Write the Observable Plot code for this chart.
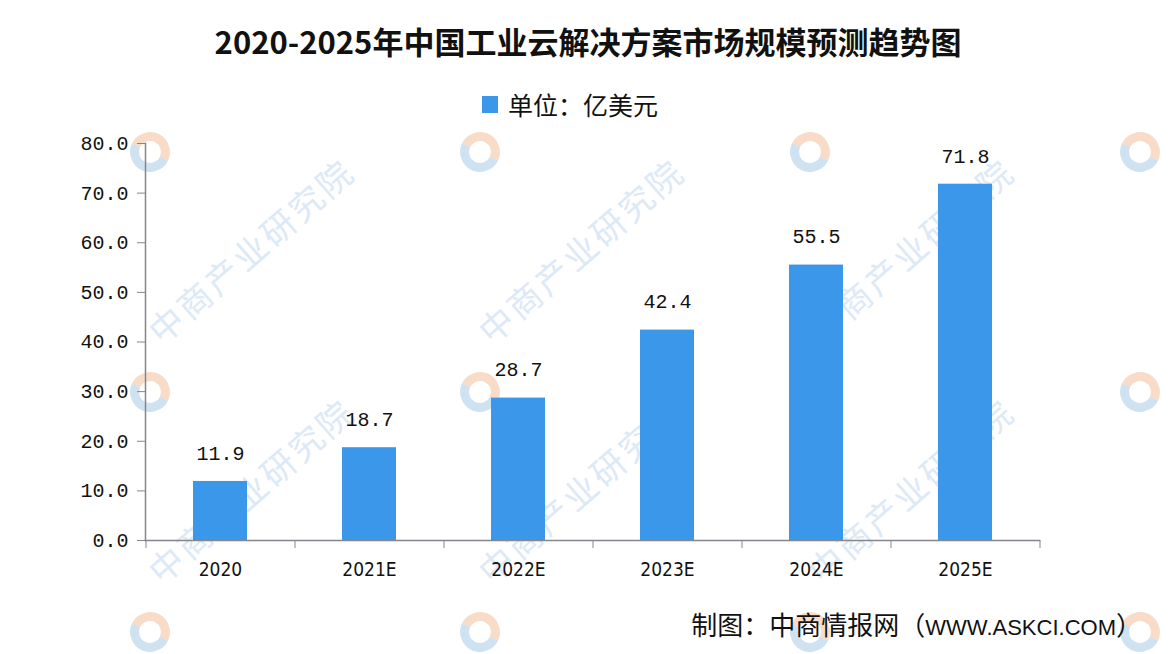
<!DOCTYPE html>
<html>
<head>
<meta charset="utf-8">
<script src="https://cdn.jsdelivr.net/npm/d3@7"></script>
<script src="https://cdn.jsdelivr.net/npm/@observablehq/plot@0.6"></script>
<style>
  html, body { margin: 0; padding: 0; background: #fff; }
  #wrap { position: relative; width: 1170px; height: 654px; overflow: hidden; background: #fff; font-family: "Noto Sans CJK SC", sans-serif; }
  #wm { position: absolute; left: 0; top: 0; width: 1170px; height: 654px; }
  .wmt { position: absolute; font-size: 34px; letter-spacing: 3px; color: #dce9f6; transform-origin: 0 100%; transform: rotate(-41deg); white-space: nowrap; line-height: 34px; font-family: "Noto Sans CJK SC", sans-serif; }
  .wml { position: absolute; width: 22px; height: 22px; border-radius: 50%; border: 9px solid #cfe2f2; border-top-color: #f8dcc8; border-right-color: #f8dcc8; transform: rotate(-20deg); }
  #title { position: absolute; left: 0; width: 1176px; top: 20px; text-align: center; font-size: 31px; font-weight: bold; color: #111; line-height: 42px; }
  #legend { position: absolute; left: 482px; top: 89px; height: 30px; display: flex; align-items: center; font-size: 25px; color: #111; }
  #legend .sw { width: 16px; height: 17px; background: #3b97e9; margin-right: 10px; }
  #chart { position: absolute; left: 0; top: 120px; }
  #caption { position: absolute; right: 28px; top: 607px; font-size: 26px; color: #111; line-height: 34px; white-space: nowrap; }
  #caption .lat { font-family: "Liberation Sans", Arial, sans-serif; font-size: 22px; }
</style>
</head>
<body>
<div id="wrap">
  <div id="wm"></div>
  <div id="title"></div>
  <div id="legend"><div class="sw"></div><span id="legendText"></span></div>
  <div id="chart"></div>
  <div id="caption"><span id="capA"></span><span id="capB" class="lat"></span><span id="capC"></span></div>
</div>
<script>
const titleText = "2020-2025年中国工业云解决方案市场规模预测趋势图";
const seriesName = "单位：亿美元";
const captionParts = ["制图：中商情报网（", "WWW.ASKCI.COM", "）"];
const watermarkText = "中商产业研究院";
const years = ["2020", "2021E", "2022E", "2023E", "2024E", "2025E"];
const values = [11.9, 18.7, 28.7, 42.4, 55.5, 71.8];
const yTicks = [0, 10, 20, 30, 40, 50, 60, 70, 80];

document.getElementById("title").textContent = titleText;
document.getElementById("legendText").textContent = seriesName;
document.getElementById("capA").textContent = captionParts[0];
document.getElementById("capB").textContent = captionParts[1];
document.getElementById("capC").textContent = captionParts[2];

// faint background watermark (decorative); only texts that fit inside the frame
const wm = document.getElementById("wm");
for (let r = 0; r < 3; r++) {
  for (let c = 0; c < 4; c++) {
    const lx = 150 + c * 330, ly = 152 + r * 240;
    const logo = document.createElement("div");
    logo.className = "wml";
    logo.style.left = (lx - 20) + "px";
    logo.style.top = (ly - 20) + "px";
    wm.appendChild(logo);
    if (r > 0 && c < 3) {
      const t = document.createElement("div");
      t.className = "wmt";
      t.textContent = watermarkText;
      t.style.left = (lx + 14) + "px";
      t.style.top = (ly - 78) + "px";
      wm.appendChild(t);
    }
  }
}

const data = years.map((y, i) => ({year: y, value: values[i]}));

const W = 1170, H = 470;
const mL = 145, mR = 131, mT = 23, mB = 50;
const halfStep = (W - mL - mR) / years.length / 2;
const axisColor = "#85858f";
const barColor = "#3b97e9";

const chart = Plot.plot({
  width: W,
  height: H,
  marginLeft: mL,
  marginRight: mR,
  marginTop: mT,
  marginBottom: mB,
  style: {background: "transparent", color: "#111", overflow: "visible"},
  x: {domain: years, paddingInner: 0.64, paddingOuter: 0.32, label: null},
  y: {domain: [0, 80], label: null},
  marks: [
    Plot.barY(data, {x: "year", y: "value", fill: barColor}),
    Plot.text(data, {x: "year", y: "value", text: d => d.value.toFixed(1), dy: -28, fontSize: 20, fontFamily: "Liberation Mono, DejaVu Sans Mono, monospace", fill: "#111"}),
    Plot.frame({anchor: "left", stroke: axisColor, strokeWidth: 1.5}),
    Plot.frame({anchor: "bottom", stroke: axisColor, strokeWidth: 1.5}),
    Plot.axisY({ticks: yTicks, tickFormat: d => d.toFixed(1), tickSize: 8, tickPadding: 9, stroke: axisColor, fontSize: 20, fontFamily: "Liberation Mono, DejaVu Sans Mono, monospace", fill: "#111"}),
    Plot.axisX({tickSize: 8, text: null, dx: -halfStep, stroke: axisColor}),
    Plot.axisX({ticks: [years[years.length - 1]], tickSize: 8, text: null, dx: halfStep, stroke: axisColor}),
    Plot.axisX({tickSize: 0, tickPadding: 22, fontSize: 19, fontFamily: "Liberation Sans Narrow, DejaVu Sans Condensed, Liberation Sans, sans-serif", fill: "#111"})
  ]
});
document.getElementById("chart").appendChild(chart);
</script>
</body>
</html>
